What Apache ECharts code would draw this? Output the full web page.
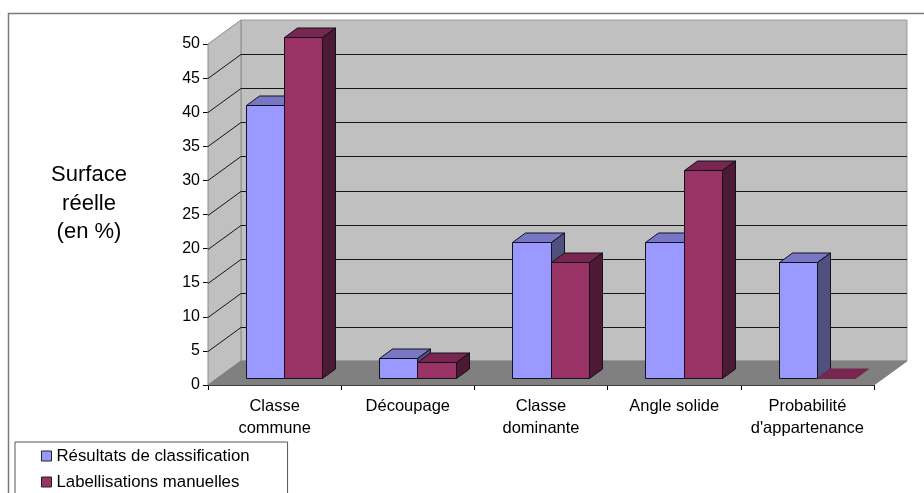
<!DOCTYPE html>
<html><head><meta charset="utf-8">
<style>html,body{margin:0;padding:0;background:#fff}#c{width:924px;height:493px}</style>
<script src="https://cdn.jsdelivr.net/npm/echarts@6/dist/echarts.min.js"></script>
</head><body><div id="c"></div>
<script>
const categories = ['Classe\ncommune', 'Découpage', 'Classe\ndominante', 'Angle solide', "Probabilité\nd'appartenance"];
const resultats = [40, 3, 20, 20, 17];
const labellisations = [50, 2.4, 17, 30.5, 0];
const yTicks = [0, 5, 10, 15, 20, 25, 30, 35, 40, 45, 50];
const seriesNames = ['Résultats de classification', 'Labellisations manuelles'];

const FONT = '"Liberation Sans", Arial, sans-serif';
const WALL_DX = 33, WALL_DY = -24;
const BAR_DX = 9.5, BAR_DY = -7, DEPTH_DX = 13, DEPTH_DY = -9.5;
const BAR_FRAC = 0.2875;
const palette = [
  {front: '#9999FF', top: '#7777C6', side: '#4F4F80'},
  {front: '#993366', top: '#77274F', side: '#4D1A33'}
];
const poly = (points, fill, stroke, z2) => ({
  type: 'polygon', shape: {points}, z2: z2 || 0,
  style: {fill, stroke, lineWidth: 1, lineJoin: 'miter'}
});

function renderWalls(params, api) {
  const cs = params.coordSys;
  const x0 = cs.x, x1 = cs.x + cs.width;
  const y0 = api.coord([0, 0])[1], yT = api.coord([0, 50])[1];
  return {type: 'group', children: [
    poly([[x0 + WALL_DX, yT + WALL_DY], [x1 + WALL_DX, yT + WALL_DY], [x1 + WALL_DX, y0 + WALL_DY], [x0 + WALL_DX, y0 + WALL_DY]], '#C0C0C0', '#9A9A9A'),
    poly([[x0, yT], [x0 + WALL_DX, yT + WALL_DY], [x0 + WALL_DX, y0 + WALL_DY], [x0, y0]], '#C0C0C0', '#8C8C8C'),
    poly([[x0, y0], [x0 + WALL_DX, y0 + WALL_DY], [x1 + WALL_DX, y0 + WALL_DY], [x1, y0]], '#808080', '#808080')
  ]};
}
function renderGrid(params, api) {
  const v = api.value(0);
  if (v === 0 || v === 50) return null;
  const cs = params.coordSys;
  const y = Math.round(api.coord([0, v])[1]) + 0.5;
  return {type: 'polyline', shape: {points: [[cs.x, y], [cs.x + WALL_DX, y + WALL_DY], [cs.x + cs.width + WALL_DX, y + WALL_DY]]},
    style: {fill: 'none', stroke: '#151515', lineWidth: 1}};
}
function makeBarRenderer(idx) {
  return function (params, api) {
    const c = palette[idx];
    const band = api.size([1, 0])[0];
    const w = band * BAR_FRAC;
    const p = api.coord([api.value(0), api.value(1)]);
    const b = api.coord([api.value(0), 0]);
    const xl = Math.round(p[0] + BAR_DX + (idx - 1) * w) + 0.5;
    const xr = Math.round(p[0] + BAR_DX + idx * w) + 0.5;
    const yb = Math.round(b[1] + BAR_DY) + 0.5;
    const yt = Math.round(p[1] + BAR_DY) + 0.5;
    const s = '#14101E';
    const ch = [];
    if (yb > yt) ch.push(poly([[xl, yt], [xr, yt], [xr, yb], [xl, yb]], c.front, s));
    ch.push(poly([[xl, yt], [xl + DEPTH_DX, yt + DEPTH_DY], [xr + DEPTH_DX, yt + DEPTH_DY], [xr, yt]], c.top, yb > yt ? s : c.top));
    if (yb > yt) ch.push(poly([[xr, yt], [xr + DEPTH_DX, yt + DEPTH_DY], [xr + DEPTH_DX, yb + DEPTH_DY], [xr, yb]], c.side, s));
    return {type: 'group', children: ch};
  };
}

const chart = echarts.init(document.getElementById('c'), null, {renderer: 'canvas'});
chart.setOption({
  animation: false,
  backgroundColor: '#fff',
  title: {
    text: 'Surface\nréelle\n(en %)', left: 84, top: 156, textAlign: 'center',
    textStyle: {fontFamily: FONT, fontSize: 22, fontWeight: 'normal', color: '#000', lineHeight: 28.5}
  },
  graphic: [{
    type: 'rect', silent: true, z: -10,
    shape: {x: 8.5, y: 13.5, width: 1000, height: 1000},
    style: {fill: 'none', stroke: '#7A7A7A', lineWidth: 1.5}
  }],
  legend: {
    orient: 'vertical', left: 15, top: 442, width: 227, height: 46, padding: [5, 38, 12, 26],
    backgroundColor: '#fff', borderColor: '#555', borderWidth: 1,
    itemWidth: 10, itemHeight: 10, itemGap: 8, icon: 'rect',
    data: seriesNames.map((name, i) => ({name, itemStyle: {color: palette[i].front, borderColor: '#222', borderWidth: 1}})),
    textStyle: {fontFamily: FONT, fontSize: 16.8, color: '#000', lineHeight: 18},
    selectedMode: false
  },
  grid: {left: 208, right: 50, top: 44, bottom: 108, containLabel: false},
  xAxis: {
    type: 'category', data: categories,
    axisLine: {show: true, lineStyle: {color: '#000', width: 1}},
    axisTick: {show: true, alignWithLabel: false, length: 5, lineStyle: {color: '#000'}},
    axisLabel: {interval: 0, fontFamily: FONT, fontSize: 16.5, color: '#000', lineHeight: 22, margin: 10},
    splitLine: {show: false}
  },
  yAxis: {
    type: 'value', min: 0, max: 50, interval: 5,
    axisLine: {show: true, lineStyle: {color: '#000', width: 1}},
    axisTick: {show: true, length: 5, lineStyle: {color: '#000'}},
    axisLabel: {fontFamily: FONT, fontSize: 16, color: '#000', margin: 8,
      customValues: yTicks},
    splitLine: {show: false}
  },
  series: [
    {type: 'custom', name: 'walls', renderItem: renderWalls, data: [[0]], silent: true, z: 1, encode: {y: 0}},
    {type: 'custom', name: 'grid', renderItem: renderGrid, data: yTicks.map(v => [v]), silent: true, z: 1, encode: {y: 0}},
    {type: 'custom', name: seriesNames[0], renderItem: makeBarRenderer(0), silent: true, z: 2,
      itemStyle: {color: palette[0].front}, encode: {x: 0, y: 1},
      data: resultats.map((v, i) => [i, v])},
    {type: 'custom', name: seriesNames[1], renderItem: makeBarRenderer(1), silent: true, z: 3,
      itemStyle: {color: palette[1].front}, encode: {x: 0, y: 1},
      data: labellisations.map((v, i) => [i, v])}
  ]
});
</script></body></html>
